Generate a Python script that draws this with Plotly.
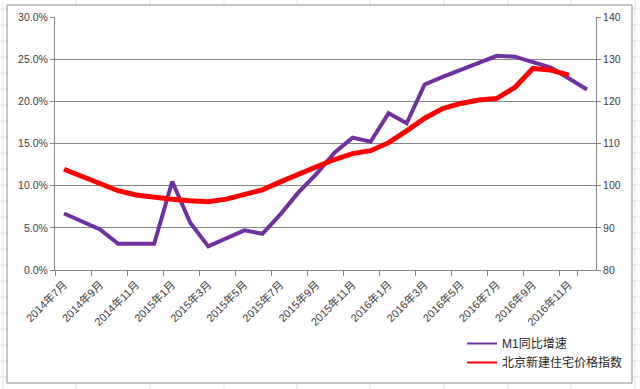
import plotly.graph_objects as go

# ---- data ----
months = ["2014年7月", "2014年8月", "2014年9月", "2014年10月", "2014年11月", "2014年12月",
          "2015年1月", "2015年2月", "2015年3月", "2015年4月", "2015年5月", "2015年6月",
          "2015年7月", "2015年8月", "2015年9月", "2015年10月", "2015年11月", "2015年12月",
          "2016年1月", "2016年2月", "2016年3月", "2016年4月", "2016年5月", "2016年6月",
          "2016年7月", "2016年8月", "2016年9月", "2016年10月", "2016年11月", "2016年12月"]
tick_labels = months[::2]
m1_growth = [6.7, 5.8, 4.8, 3.1, 3.1, 3.1, 10.5, 5.6, 2.8, 3.7, 4.7, 4.3,
             6.6, 9.2, 11.4, 13.9, 15.7, 15.2, 18.6, 17.4, 22.0, 22.9, 23.7, 24.6,
             25.4, 25.3, 24.7, 24.0, 22.7, 21.4]
bj_price = [103.9, 102.3, 100.6, 98.8, 97.8, 97.2, 96.8, 96.4, 96.2, 96.8, 97.8, 99.0,
            100.9, 102.8, 104.5, 106.2, 107.6, 108.3, 110.2, 113.0, 116.0, 118.3, 119.5,
            120.3, 120.7, 123.3, 127.8, 127.4, 126.2]
names = ["M1同比增速", "北京新建住宅价格指数"]
colors = ["#7030A0", "#FF0000"]

# ---- layout geometry (px) ----
W, H = 640, 389
L, R, T, B = 55, 596, 17, 270
def px(x):
    return (x - L) / (R - L)
def py(y):
    return (B - y) / (B - T)

FONT = "Liberation Sans, Noto Sans CJK SC, sans-serif"
AX = "#868686"
TXT = "#404040"

fig = go.Figure()
fig.add_trace(go.Scatter(x=months, y=m1_growth, name=names[0], mode="lines",
                         line=dict(color=colors[0], width=4), showlegend=False))
fig.add_trace(go.Scatter(x=months[:len(bj_price)], y=bj_price, name=names[1], mode="lines",
                         line=dict(color=colors[1], width=5), yaxis="y2", showlegend=False))
# legend entries (thin key lines, as in the original)
for n, c in zip(names, colors):
    fig.add_trace(go.Scatter(x=[None], y=[None], name=n, mode="lines",
                             line=dict(color=c, width=2)))

shapes = []
# spreadsheet background grid
for x in [3, 76, 150, 224, 297, 370, 444, 508, 571, 635]:
    shapes.append(dict(type="line", xref="paper", yref="paper", x0=px(x), x1=px(x),
                       y0=py(0), y1=py(H), line=dict(color="#DDE3EE", width=1), layer="below"))
y = 9
while y < H:
    shapes.append(dict(type="line", xref="paper", yref="paper", x0=px(0), x1=px(W),
                       y0=py(y), y1=py(y), line=dict(color="#DDE3EE", width=1), layer="below"))
    y += 16
# chart area
shapes.append(dict(type="rect", xref="paper", yref="paper", x0=px(7), x1=px(632),
                   y0=py(383), y1=py(5), fillcolor="white",
                   line=dict(color="#8C8C8C", width=1), layer="below"))

fig.update_layout(
    width=W, height=H,
    margin=dict(l=L, r=W - R, t=T, b=H - B, autoexpand=False),
    paper_bgcolor="white", plot_bgcolor="rgba(0,0,0,0)",
    font=dict(family=FONT, size=10, color=TXT),
    shapes=shapes,
    showlegend=True,
    legend=dict(xref="container", yref="container", x=462 / W, y=1 - 329 / H,
                xanchor="left", yanchor="top",
                bgcolor="rgba(0,0,0,0)", font=dict(size=12, color="#262626"),
                itemwidth=30, tracegroupgap=0),
    xaxis=dict(type="category", range=[-0.5, len(months) - 0.5], automargin=False,
               tickmode="array", tickvals=tick_labels, ticktext=tick_labels,
               tickson="boundaries", ticks="outside", ticklen=5, tickcolor=AX,
               tickangle=-45, ticklabelstandoff=3,
               showline=True, linecolor=AX, linewidth=1,
               showgrid=False, zeroline=False, tickfont=dict(size=11, color=TXT)),
    yaxis=dict(range=[0, 30], dtick=5, tickformat=".1f", ticksuffix="%", automargin=False,
               showline=True, linecolor=AX, ticks="outside", ticklen=4, tickcolor=AX,
               gridcolor=AX, gridwidth=1, zeroline=False, tickfont=dict(size=10.5, color=TXT)),
    yaxis2=dict(range=[80, 140], dtick=10, overlaying="y", side="right", automargin=False,
                showline=True, linecolor=AX, ticks="outside", ticklen=4, tickcolor=AX,
                showgrid=False, zeroline=False, tickfont=dict(size=10.5, color=TXT)),
)

fig.write_html("out.html", config={"displayModeBar": False},
               post_script="document.body.style.margin='0';document.body.style.overflow='hidden';")
